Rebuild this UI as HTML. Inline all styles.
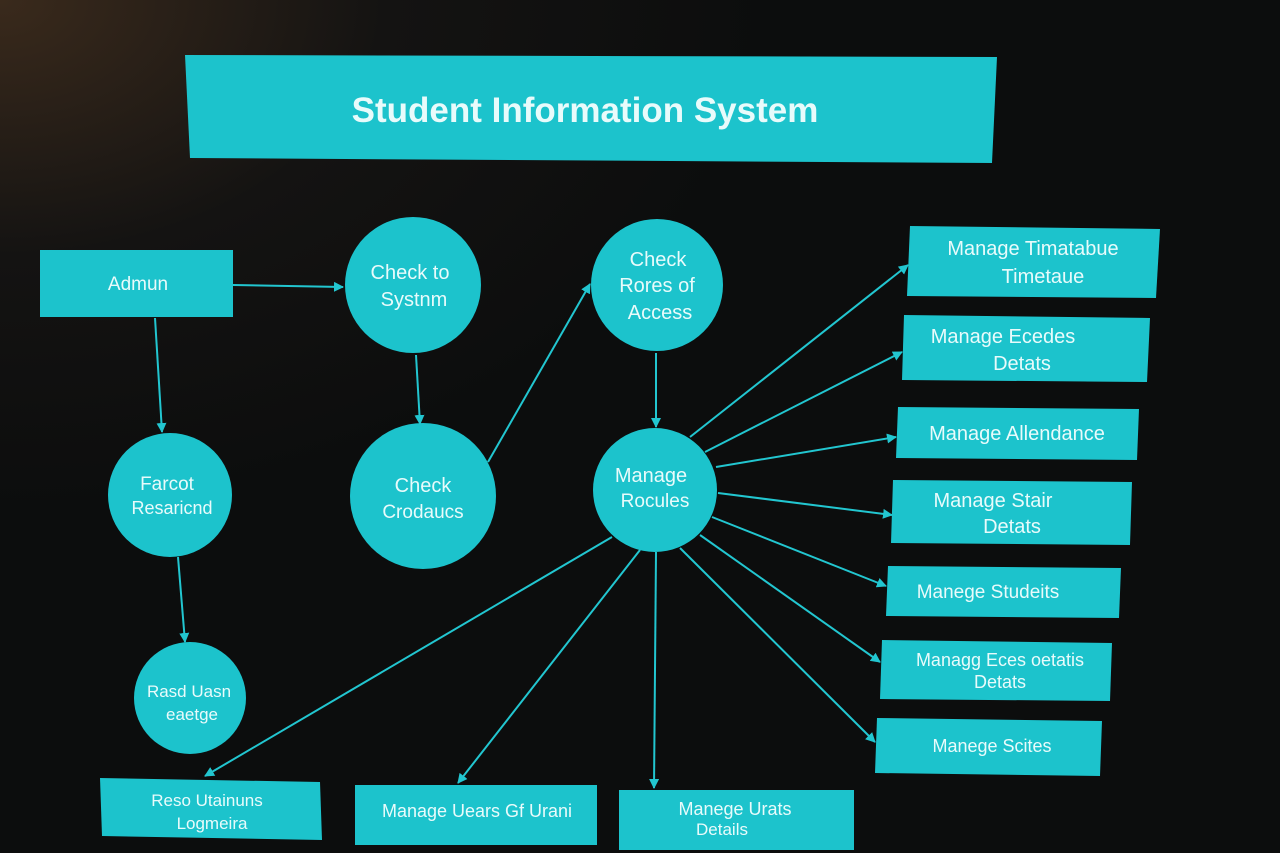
<!DOCTYPE html>
<html><head><meta charset="utf-8"><style>
html,body{margin:0;padding:0;background:#0d0e0e;}
svg{display:block}
text{font-family:"Liberation Sans","DejaVu Sans",sans-serif;fill:#e8fbfb;text-anchor:middle;}
</style></head><body>
<svg width="1280" height="853" viewBox="0 0 1280 853" xmlns="http://www.w3.org/2000/svg">
<defs>
<radialGradient id="bg" cx="0" cy="0" r="0.6">
<stop offset="0" stop-color="#3a2a1c"/><stop offset="0.5" stop-color="#141312"/><stop offset="1" stop-color="#0c0d0d"/>
</radialGradient>
<marker id="a" markerWidth="10" markerHeight="10" refX="9" refY="5" orient="auto" markerUnits="userSpaceOnUse">
<path d="M0,0 L10,5 L0,10 z" fill="#22c6d0"/></marker>
</defs>
<rect width="1280" height="853" fill="url(#bg)"/>
<g fill="#1cc3cc">
<polygon points="185,55 997,57 992,163 190,158"/>
<rect x="40" y="250" width="193" height="67"/>
<circle cx="413" cy="285" r="68"/>
<circle cx="657" cy="285" r="66"/>
<circle cx="170" cy="495" r="62"/>
<circle cx="423" cy="496" r="73"/>
<circle cx="655" cy="490" r="62"/>
<circle cx="190" cy="698" r="56"/>
<polygon points="910,226 1160,229 1156,298 907,296"/>
<polygon points="904,315 1150,318 1147,382 902,380"/>
<polygon points="898,407 1139,409 1137,460 896,458"/>
<polygon points="893,480 1132,482 1130,545 891,543"/>
<polygon points="888,566 1121,568 1119,618 886,616"/>
<polygon points="882,640 1112,643 1110,701 880,699"/>
<polygon points="877,718 1102,721 1100,776 875,773"/>
<polygon points="100,778 320,782 322,840 102,836"/>
<rect x="355" y="785" width="242" height="60"/>
<rect x="619" y="790" width="235" height="60"/>
</g>
<g stroke="#22c6d0" stroke-width="2" fill="none" marker-end="url(#a)">
<line x1="233" y1="285" x2="343" y2="287"/>
<line x1="155" y1="318" x2="162" y2="432"/>
<line x1="178" y1="557" x2="185" y2="642"/>
<line x1="416" y1="355" x2="420" y2="424"/>
<line x1="488" y1="462" x2="590" y2="284"/>
<line x1="656" y1="353" x2="656" y2="427"/>
<line x1="690" y1="437" x2="908" y2="265"/>
<line x1="705" y1="452" x2="902" y2="352"/>
<line x1="716" y1="467" x2="896" y2="437"/>
<line x1="718" y1="493" x2="892" y2="515"/>
<line x1="712" y1="517" x2="886" y2="586"/>
<line x1="700" y1="535" x2="880" y2="662"/>
<line x1="680" y1="548" x2="875" y2="742"/>
<line x1="612" y1="537" x2="205" y2="776"/>
<line x1="640" y1="550" x2="458" y2="783"/>
<line x1="656" y1="552" x2="654" y2="788"/>
</g>
<text x="585" y="122" font-size="35" font-weight="bold">Student Information System</text>
<text x="138" y="290" font-size="19">Admun</text>
<text x="410" y="279" font-size="20">Check to</text><text x="414" y="306" font-size="20">Systnm</text>
<text x="658" y="266" font-size="20">Check</text><text x="657" y="292" font-size="20">Rores of</text><text x="660" y="319" font-size="20">Access</text>
<text x="167" y="490" font-size="19">Farcot</text><text x="172" y="514" font-size="18">Resaricnd</text>
<text x="423" y="492" font-size="20">Check</text><text x="423" y="518" font-size="19">Crodaucs</text>
<text x="651" y="482" font-size="20">Manage</text><text x="655" y="507" font-size="19">Rocules</text>
<text x="189" y="697" font-size="17">Rasd Uasn</text><text x="192" y="720" font-size="17">eaetge</text>
<text x="1033" y="255" font-size="20">Manage Timatabue</text><text x="1043" y="283" font-size="20">Timetaue</text>
<text x="1003" y="343" font-size="20">Manage Ecedes</text><text x="1022" y="370" font-size="20">Detats</text>
<text x="1017" y="440" font-size="20">Manage Allendance</text>
<text x="993" y="507" font-size="20">Manage Stair</text><text x="1012" y="533" font-size="20">Detats</text>
<text x="988" y="598" font-size="19">Manege Studeits</text>
<text x="1000" y="666" font-size="18">Managg Eces oetatis</text><text x="1000" y="688" font-size="18">Detats</text>
<text x="992" y="752" font-size="18">Manege Scites</text>
<text x="207" y="806" font-size="17">Reso Utainuns</text><text x="212" y="829" font-size="17">Logmeira</text>
<text x="477" y="817" font-size="18">Manage Uears Gf Urani</text>
<text x="735" y="815" font-size="18">Manege Urats</text><text x="722" y="835" font-size="17">Details</text>
</svg>
</body></html>
